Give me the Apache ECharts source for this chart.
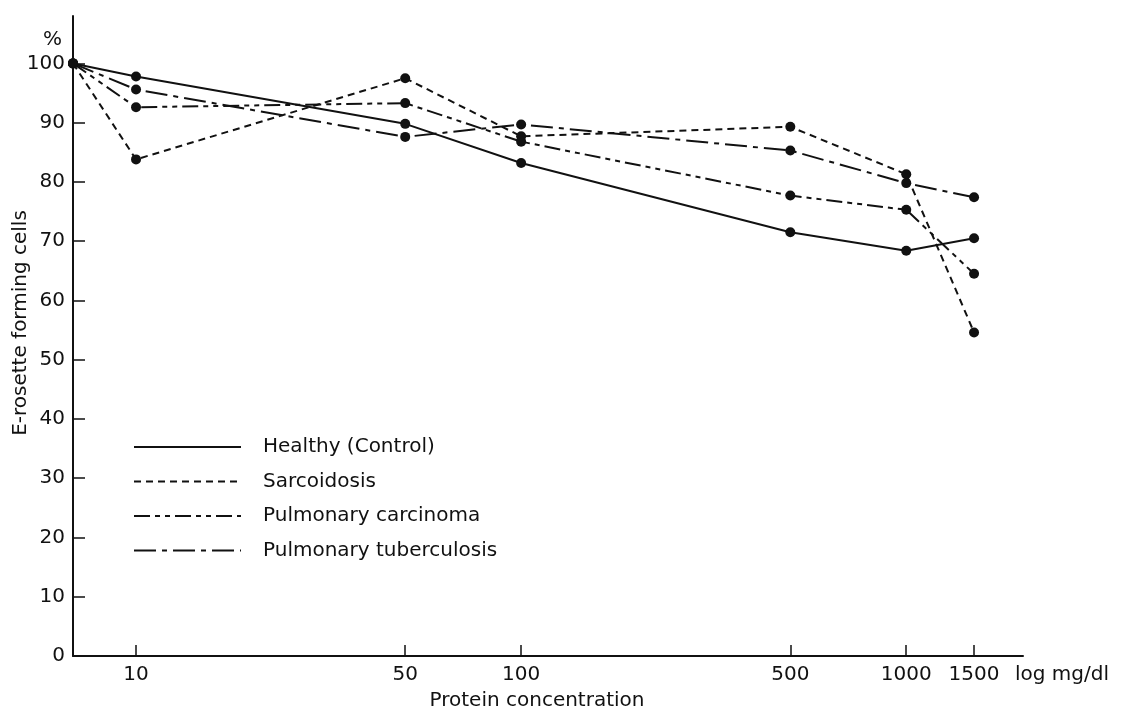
<!DOCTYPE html>
<html>
<head>
<meta charset="utf-8">
<script src="https://cdn.jsdelivr.net/npm/echarts@6/dist/echarts.min.js"></script>
<style>
html,body{margin:0;padding:0;background:#fff;}
#chart{width:1128px;height:715px;}
</style>
</head>
<body>
<div id="chart"></div>
<script>
// Protein concentration (mg/dl); first value = baseline drawn at the axis start
const concentrations = [6.86, 10, 50, 100, 500, 1000, 1500];
const xTickValues = [10, 50, 100, 500, 1000, 1500];
const yTickValues = [0, 10, 20, 30, 40, 50, 60, 70, 80, 90, 100];
const seriesNames = ['Healthy (Control)', 'Sarcoidosis', 'Pulmonary carcinoma', 'Pulmonary tuberculosis'];
const healthy      = [100, 97.8, 89.8, 83.2, 71.5, 68.4, 70.5];
const sarcoidosis  = [100, 83.8, 97.5, 87.7, 89.3, 81.3, 54.6];
const carcinoma    = [100, 92.6, 93.3, 86.8, 77.7, 75.3, 64.5];
const tuberculosis = [100, 95.6, 87.6, 89.7, 85.3, 79.8, 77.4];

const INK = '#111';
const FONT = 'DejaVu Sans';
const dashes = ['solid', [7, 5], [16, 5, 5, 5, 5, 5], [22, 6, 5, 6]];
const values = [healthy, sarcoidosis, carcinoma, tuberculosis];

const chart = echarts.init(document.getElementById('chart'), null, {renderer: 'canvas'});
chart.setOption({
  animation: false,
  backgroundColor: '#fff',
  title: [
    {text: '%', left: 43, top: 30, padding: 0, textStyle: {fontFamily: FONT, fontSize: 20, fontWeight: 'normal', color: INK}},
    {text: 'Protein concentration', left: 537, top: 691, padding: 0, textAlign: 'center',
     textStyle: {fontFamily: FONT, fontSize: 20, fontWeight: 'normal', color: INK}}
  ],
  legend: {
    orient: 'vertical',
    left: 133, top: 437, padding: 0,
    itemWidth: 107, itemHeight: 20, itemGap: 14.5,
    data: seriesNames,
    itemStyle: {opacity: 0},
    textStyle: {fontFamily: FONT, fontSize: 20, color: INK, padding: [0, 0, 0, 17]}
  },
  grid: {left: 73, right: 105, top: 16, bottom: 59, containLabel: false, outerBoundsMode: 'none'},
  xAxis: {
    type: 'log', logBase: 10, min: 6.86, max: 2010,
    name: 'log mg/dl', nameLocation: 'end', nameGap: -8, nameMoveOverlap: false,
    nameTextStyle: {fontFamily: FONT, fontSize: 20, color: INK, align: 'left', verticalAlign: 'top', padding: [9, 0, 0, 0]},
    axisLine: {lineStyle: {color: INK, width: 2}},
    axisTick: {inside: true, length: 11, customValues: xTickValues, lineStyle: {color: INK, width: 1.5}},
    axisLabel: {customValues: xTickValues, fontFamily: FONT, fontSize: 20, color: INK, margin: 9,
                formatter: v => String(v)},
    splitLine: {show: false}, minorTick: {show: false}
  },
  yAxis: {
    type: 'value', min: 0, max: 108,
    name: 'E-rosette forming cells', nameLocation: 'middle', nameGap: 42, nameMoveOverlap: false,
    nameTextStyle: {fontFamily: FONT, fontSize: 20, color: INK, padding: [0, 0, 0, 26]},
    axisLine: {show: true, lineStyle: {color: INK, width: 2}},
    axisTick: {show: true, inside: true, length: 12, customValues: yTickValues, lineStyle: {color: INK, width: 1.5}},
    axisLabel: {customValues: yTickValues, fontFamily: FONT, fontSize: 20, color: INK, margin: 8},
    splitLine: {show: false}
  },
  series: seriesNames.map((name, i) => ({
    name: name,
    type: 'line',
    data: concentrations.map((c, j) => [c, values[i][j]]),
    symbol: 'circle', symbolSize: 10,
    itemStyle: {color: INK},
    lineStyle: {color: INK, width: 2, type: dashes[i]},
    z: 3
  }))
});
</script>
</body>
</html>
